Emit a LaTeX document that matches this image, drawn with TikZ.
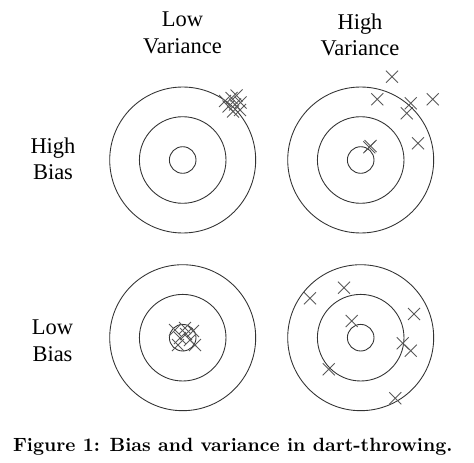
\documentclass[tikz,border=0pt]{standalone}
\usepackage{fontspec}
\newfontfamily\labelfont{Liberation Serif}

\begin{document}
\begin{tikzpicture}[x=0.02cm,y=-0.02cm,
    ring/.style={black!80,line width=0.5pt},
    dart/.style={black!65,line width=0.5pt},
    axislabel/.style={align=center,inner sep=0pt,font=\labelfont\fontsize{12.8}{15.1}\selectfont}]
    \useasboundingbox (0,0) rectangle (474,463);
    % targets
    \coordinate (tl) at (182.7,160);
    \coordinate (tr) at (360.7,160);
    \coordinate (bl) at (182.7,337.7);
    \coordinate (br) at (360.7,337.7);
    \foreach \t in {tl,tr,bl,br}
      \foreach \r in {0.266,0.866,1.46}
        \draw [ring] (\t) circle [radius=\r cm];
    % darts
    \foreach \x/\y in {225/101,231.5/98,236.5/95.5,228.5/106.5,235/104.5,240.5/102.5,233/111.5,240/110,
                       392/76.7,377.3/99.3,410.7/103.3,432.7/99.3,406.7/113.3,418/143.3,369.3/147.3,370.5/146,
                       175/330,185/328,193/331,180/338,190/340,195/345,178/345,186/334,
                       310/298.3,344/287.7,351.7/321,414/314,402.7/343.3,410.7/350.7,328.7/369.3,395.3/398.3}
      \draw [dart] (\x,\y) +(-6,-6) -- +(6,6) +(-6,6) -- +(6,-6);
    % labels
    \node (lowvar) at (182.5,33) [axislabel]{Low\\Variance};
    \node (highvar) at (360,35) [axislabel]{High\\Variance};
    \node (highbias) at (53,158.7) [axislabel]{High\\Bias};
    \node (lowbias) at (52.5,340.5) [axislabel]{Low\\Bias};
    \node (caption) at (12.7,451.7) [anchor=base west,inner sep=0pt,font=\fontsize{10.9}{13}\selectfont\bfseries]{Figure 1: Bias and variance in dart-throwing.};
\end{tikzpicture}
\end{document}
